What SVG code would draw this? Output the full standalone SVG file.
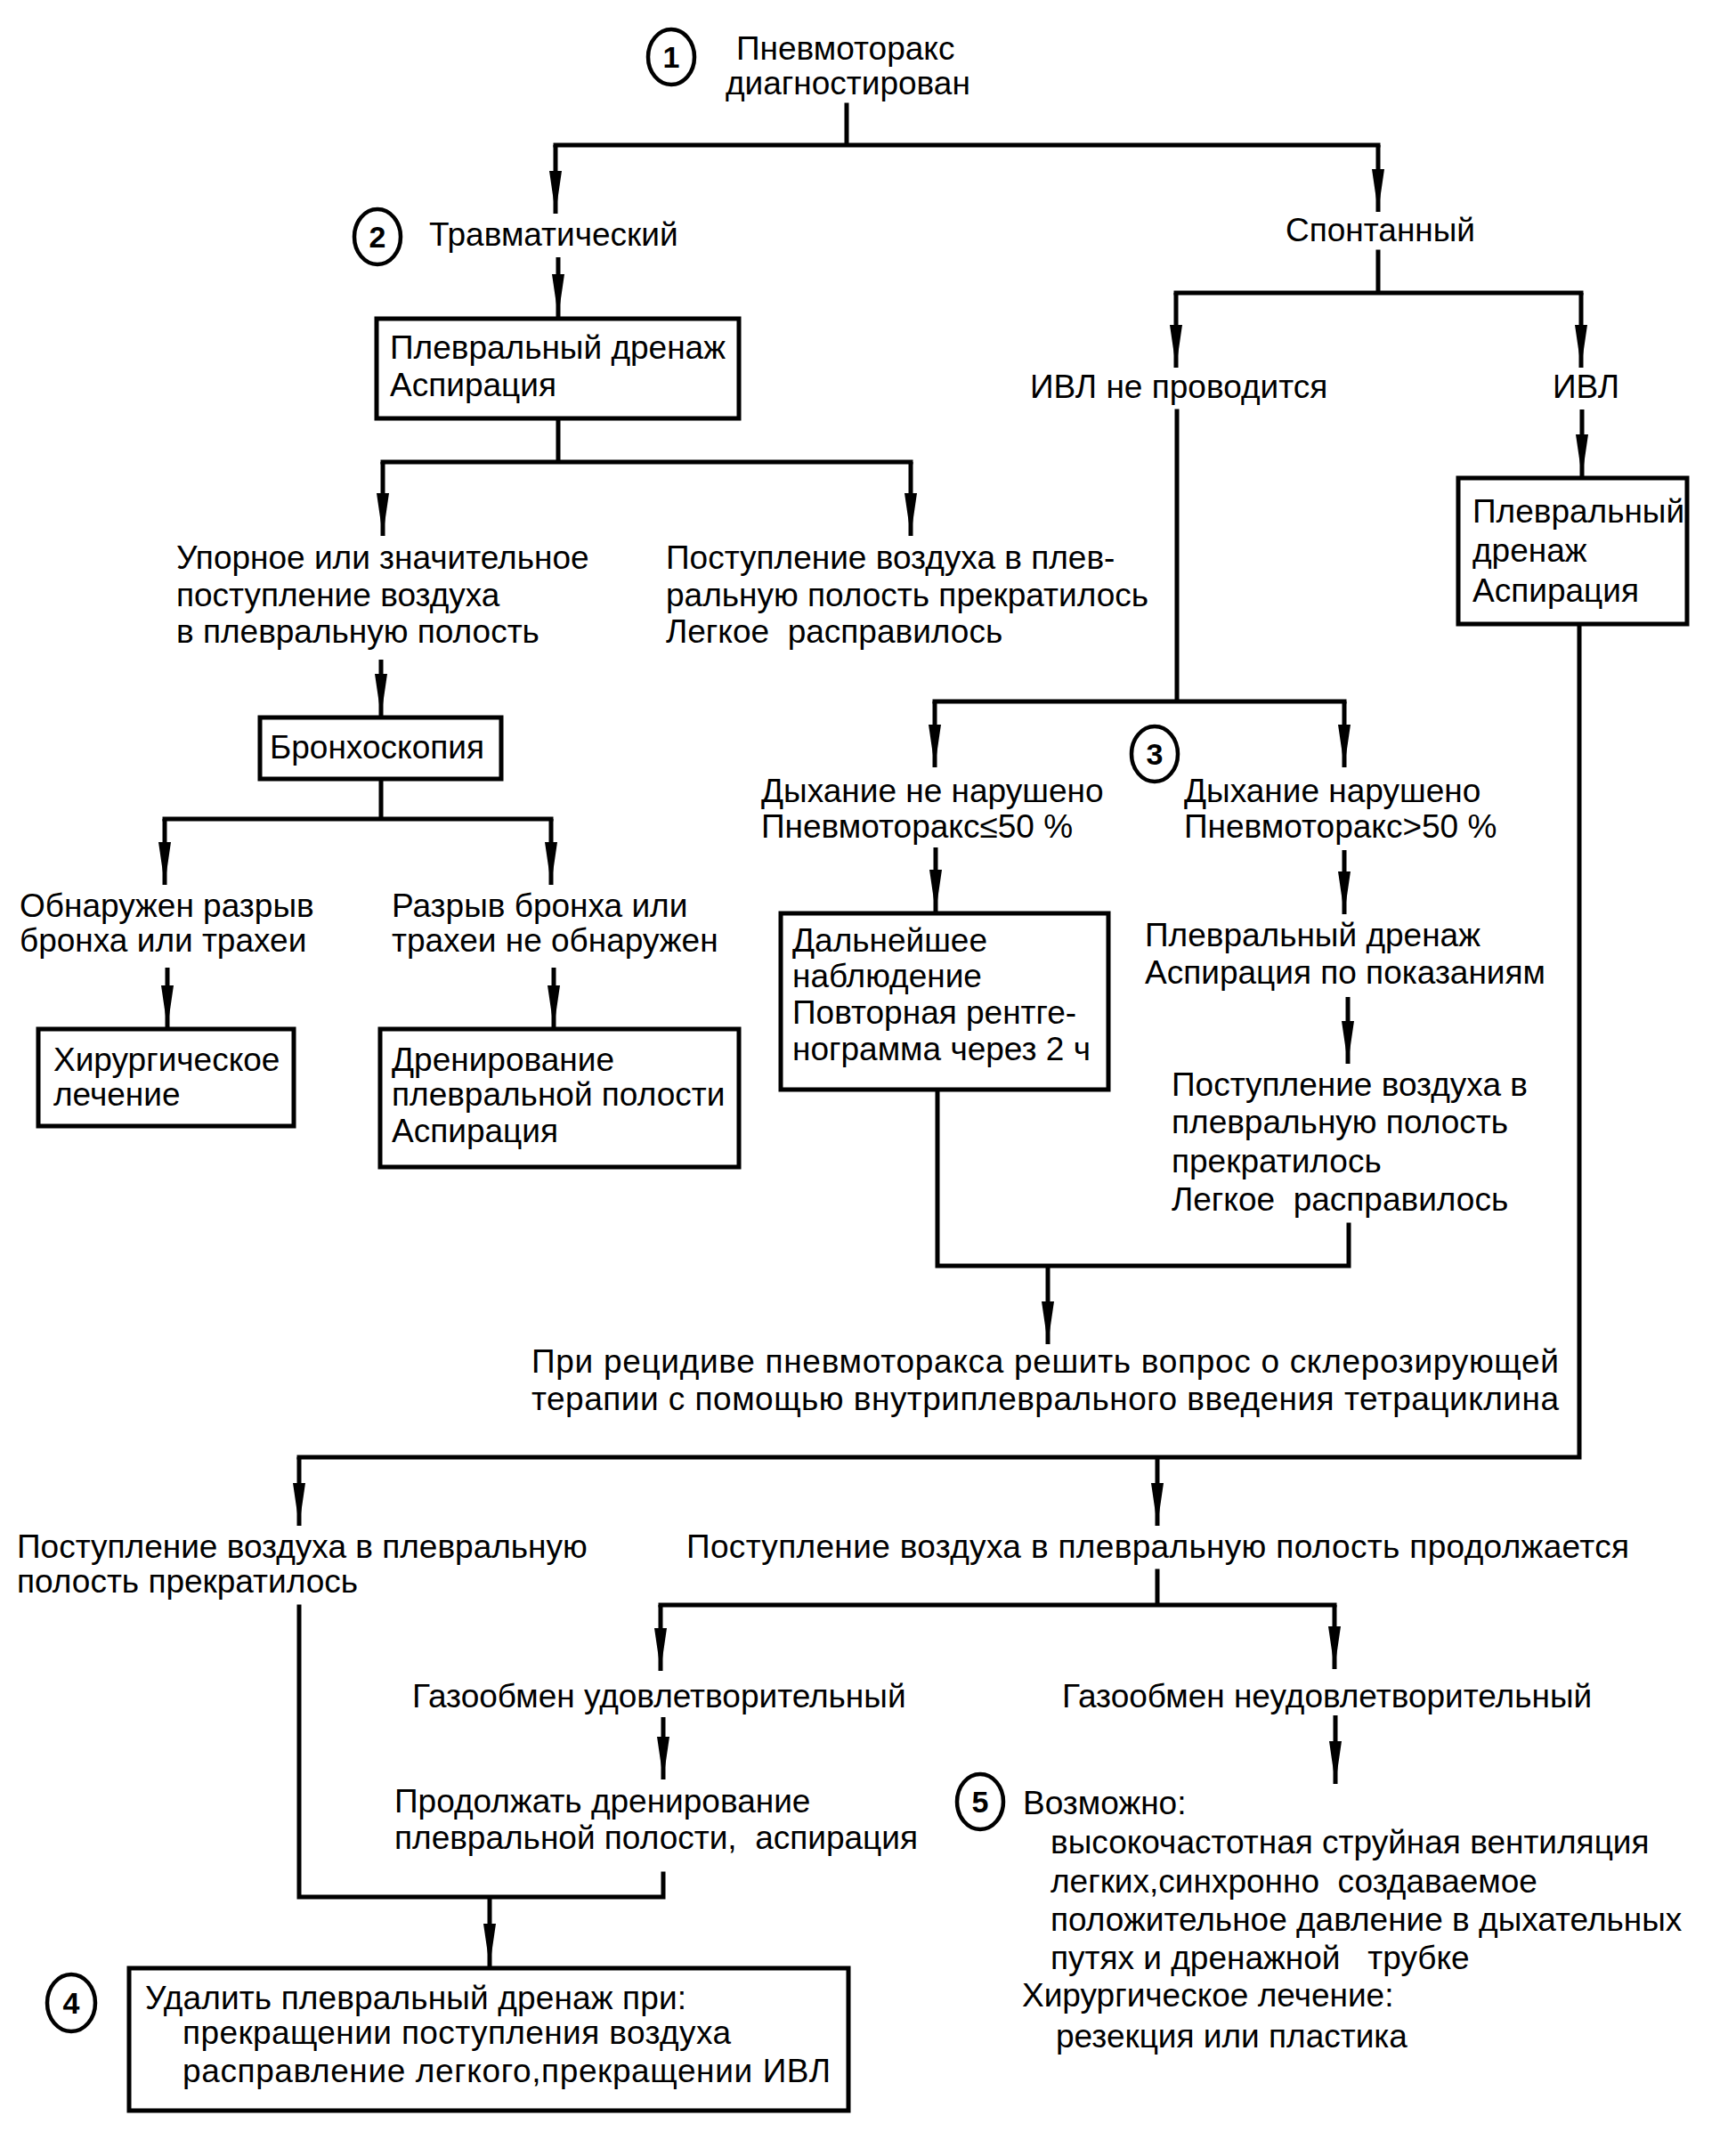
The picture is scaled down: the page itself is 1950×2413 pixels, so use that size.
<svg xmlns="http://www.w3.org/2000/svg" width="1950" height="2413" viewBox="0 0 1950 2413">
<defs>
<style>
.t{font-family:"Liberation Sans",Arial,sans-serif;font-size:37px;fill:#000}
.n{font-family:"Liberation Sans",Arial,sans-serif;font-size:34px;font-weight:bold;fill:#000;text-anchor:middle}
.b{fill:#fff;stroke:#000;stroke-width:5}
.o{fill:#fff;stroke:#000;stroke-width:4.5}
.l{fill:none;stroke:#000;stroke-width:5;stroke-linecap:square}
.a{fill:none;stroke:#000;stroke-width:5;marker-end:url(#ah)}
</style>
<marker id="ah" viewBox="0 0 48 14" refX="48" refY="7" markerWidth="48" markerHeight="14" markerUnits="userSpaceOnUse" orient="auto">
<path d="M0,0 L48,7 L0,14 Z" fill="#000"/>
</marker>
</defs>
<rect width="1950" height="2413" fill="#fff"/>

<g id="connectors">
<path class="l" d="M951,118 V163 M624,163 H1548"/>
<path class="a" d="M624,163 V240"/>
<path class="a" d="M1548,163 V238"/>
<path class="a" d="M627,289 V356"/>
<path class="l" d="M627,470 V519 M430,519 H1023"/>
<path class="a" d="M430,519 V602"/>
<path class="a" d="M1023,519 V602"/>
<path class="a" d="M428,741 V805"/>
<path class="l" d="M428,875 V920 M185,920 H619"/>
<path class="a" d="M185,920 V994"/>
<path class="a" d="M619,920 V994"/>
<path class="a" d="M188,1087 V1155"/>
<path class="a" d="M622,1087 V1155"/>
<path class="l" d="M1548,283 V329 M1321,329 H1776"/>
<path class="a" d="M1321,329 V413"/>
<path class="a" d="M1776,329 V413"/>
<path class="a" d="M1777,460 V536"/>
<path class="l" d="M1322,462 V788 M1050,788 H1510"/>
<path class="a" d="M1050,788 V862"/>
<path class="a" d="M1510,788 V862"/>
<path class="a" d="M1051,952 V1025"/>
<path class="a" d="M1510,955 V1027"/>
<path class="a" d="M1514,1120 V1195"/>
<path class="l" d="M1053,1224 V1422 H1515 V1376"/>
<path class="a" d="M1177,1422 V1510"/>
<path class="l" d="M1774,701 V1637 H336"/>
<path class="a" d="M336,1637 V1714"/>
<path class="a" d="M1300,1637 V1714"/>
<path class="l" d="M336,1805 V2131 H745 V2105"/>
<path class="a" d="M550,2131 V2209"/>
<path class="l" d="M1300,1765 V1803 M742,1803 H1499"/>
<path class="a" d="M742,1803 V1877"/>
<path class="a" d="M1499,1803 V1875"/>
<path class="a" d="M745,1929 V1999"/>
<path class="a" d="M1500,1927 V2004"/>
</g>

<g id="n1">
<ellipse class="o" cx="754" cy="64" rx="26" ry="31"/>
<text class="n" x="754" y="76">1</text>
<text class="t" x="827" y="67">Пневмоторакс</text>
<text class="t" x="815" y="106">диагностирован</text>
</g>

<g id="n2">
<ellipse class="o" cx="424" cy="266" rx="26" ry="31"/>
<text class="n" x="424" y="278">2</text>
<text class="t" x="482" y="276">Травматический</text>
</g>

<g id="n_spont">
<text class="t" x="1444" y="271">Спонтанный</text>
</g>

<g id="box_drain1">
<rect class="b" x="423" y="358" width="407" height="112"/>
<text class="t" x="438" y="403">Плевральный дренаж</text>
<text class="t" x="438" y="445">Аспирация</text>
</g>

<g id="n_upor">
<text class="t" x="198" y="639">Упорное или значительное</text>
<text class="t" x="198" y="681">поступление воздуха</text>
<text class="t" x="198" y="722">в плевральную полость</text>
</g>

<g id="n_stop1">
<text class="t" x="748" y="639">Поступление воздуха в плев-</text>
<text class="t" x="748" y="681">ральную полость прекратилось</text>
<text class="t" x="748" y="722" xml:space="preserve">Легкое  расправилось</text>
</g>

<g id="box_bronch">
<rect class="b" x="292" y="806" width="271" height="69"/>
<text class="t" x="303" y="852">Бронхоскопия</text>
</g>

<g id="n_found">
<text class="t" x="22" y="1030">Обнаружен разрыв</text>
<text class="t" x="22" y="1069">бронха или трахеи</text>
</g>

<g id="n_notfound">
<text class="t" x="440" y="1030">Разрыв бронха или</text>
<text class="t" x="440" y="1069">трахеи не обнаружен</text>
</g>

<g id="box_surg">
<rect class="b" x="43" y="1156" width="287" height="109"/>
<text class="t" x="60" y="1203">Хирургическое</text>
<text class="t" x="60" y="1242">лечение</text>
</g>

<g id="box_dren">
<rect class="b" x="427" y="1156" width="403" height="155"/>
<text class="t" x="440" y="1203">Дренирование</text>
<text class="t" x="440" y="1242">плевральной полости</text>
<text class="t" x="440" y="1283">Аспирация</text>
</g>

<g id="n_noivl">
<text class="t" x="1157" y="447">ИВЛ не проводится</text>
</g>

<g id="n_ivl">
<text class="t" x="1744" y="447">ИВЛ</text>
</g>

<g id="box_drain2">
<rect class="b" x="1638" y="537" width="257" height="164"/>
<text class="t" x="1654" y="587">Плевральный</text>
<text class="t" x="1654" y="631">дренаж</text>
<text class="t" x="1654" y="676">Аспирация</text>
</g>

<g id="n3">
<ellipse class="o" cx="1297" cy="847" rx="26" ry="31"/>
<text class="n" x="1297" y="859">3</text>
</g>

<g id="n_resp_ok">
<text class="t" x="855" y="901">Дыхание не нарушено</text>
<text class="t" x="855" y="941">Пневмоторакс≤50 %</text>
</g>

<g id="n_resp_bad">
<text class="t" x="1330" y="901">Дыхание нарушено</text>
<text class="t" x="1330" y="941">Пневмоторакс&gt;50 %</text>
</g>

<g id="box_obs">
<rect class="b" x="877" y="1026" width="368" height="198"/>
<text class="t" x="890" y="1069">Дальнейшее</text>
<text class="t" x="890" y="1109">наблюдение</text>
<text class="t" x="890" y="1150">Повторная рентге-</text>
<text class="t" x="890" y="1191">нограмма через 2 ч</text>
</g>

<g id="n_drain3">
<text class="t" x="1286" y="1063">Плевральный дренаж</text>
<text class="t" x="1286" y="1105">Аспирация по показаниям</text>
</g>

<g id="n_stop2">
<text class="t" x="1316" y="1231">Поступление воздуха в</text>
<text class="t" x="1316" y="1273">плевральную полость</text>
<text class="t" x="1316" y="1317">прекратилось</text>
<text class="t" x="1316" y="1360" xml:space="preserve">Легкое  расправилось</text>
</g>

<g id="n_recid">
<text class="t" x="597" y="1542" textLength="1154" lengthAdjust="spacing">При рецидиве пневмоторакса решить вопрос о склерозирующей</text>
<text class="t" x="597" y="1584" textLength="1154" lengthAdjust="spacing">терапии с помощью внутриплеврального введения тетрациклина</text>
</g>

<g id="n_stop3">
<text class="t" x="19" y="1750">Поступление воздуха в плевральную</text>
<text class="t" x="19" y="1789">полость прекратилось</text>
</g>

<g id="n_cont">
<text class="t" x="771" y="1750" textLength="1059" lengthAdjust="spacing">Поступление воздуха в плевральную полость продолжается</text>
</g>

<g id="n_gas_ok">
<text class="t" x="463" y="1918">Газообмен удовлетворительный</text>
</g>

<g id="n_gas_bad">
<text class="t" x="1193" y="1918">Газообмен неудовлетворительный</text>
</g>

<g id="n_contdrain">
<text class="t" x="443" y="2036">Продолжать дренирование</text>
<text class="t" x="443" y="2077" xml:space="preserve">плевральной полости,  аспирация</text>
</g>

<g id="n5">
<ellipse class="o" cx="1101" cy="2024" rx="26" ry="31"/>
<text class="n" x="1101" y="2036">5</text>
<text class="t" x="1149" y="2038">Возможно:</text>
<text class="t" x="1180" y="2082">высокочастотная струйная вентиляция</text>
<text class="t" x="1180" y="2126" xml:space="preserve">легких,синхронно  создаваемое</text>
<text class="t" x="1180" y="2169">положительное давление в дыхательных</text>
<text class="t" x="1180" y="2212" xml:space="preserve">путях и дренажной   трубке</text>
<text class="t" x="1148" y="2254">Хирургическое лечение:</text>
<text class="t" x="1186" y="2300">резекция или пластика</text>
</g>

<g id="n4">
<ellipse class="o" cx="80" cy="2250" rx="27" ry="32"/>
<text class="n" x="80" y="2262">4</text>
<rect class="b" x="145" y="2211" width="808" height="160"/>
<text class="t" x="163" y="2257" textLength="608" lengthAdjust="spacing">Удалить плевральный дренаж при:</text>
<text class="t" x="205" y="2296" textLength="616" lengthAdjust="spacing">прекращении поступления воздуха</text>
<text class="t" x="205" y="2339" textLength="728" lengthAdjust="spacing">расправление легкого,прекращении ИВЛ</text>
</g>
</svg>
